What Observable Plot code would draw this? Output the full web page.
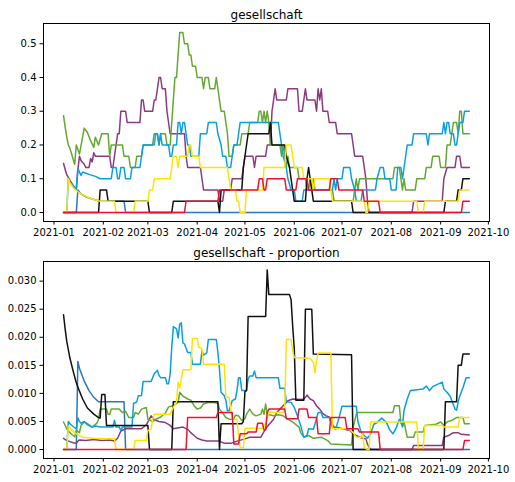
<!DOCTYPE html>
<html><head><meta charset="utf-8">
<script src="https://cdn.jsdelivr.net/npm/d3@7"></script>
<script src="https://cdn.jsdelivr.net/npm/@observablehq/plot@0.6"></script>
<style>
body{margin:0;background:#fff;}
#chart{width:515px;height:482px;}
#chart svg{display:block;}
</style></head><body><div id="chart"></div>
<script>
// day offsets are days since startDate
const startDate = "2021-01-01";
const monthTicks = ["2021-01-01","2021-02-01","2021-03-01","2021-04-01","2021-05-01","2021-06-01","2021-07-01","2021-08-01","2021-09-01","2021-10-01"];
const topTicks = [0, 0.1, 0.2, 0.3, 0.4, 0.5];
const bottomTicks = [0, 0.005, 0.01, 0.015, 0.02, 0.025, 0.03];
const titles = ["gesellschaft", "gesellschaft - proportion"];
const seriesNames = ["steel", "purple", "green", "light", "black", "yellow", "red"];
const seriesColors = ["#2a78b6", "#8c3a80", "#64a832", "#0aa0de", "#111111", "#ffe400", "#f01030"];

// ---- top panel: [day, value]
const topSteel = [[6,0],[14,0],[15,.0667],[17,.055],[20,.0467],[24,.04],[29,.0333],[44,.0333],[45,0],[261,0]];
const topPurple = [[6,.145],[7,.128],[8,.112],[10,.095],[12,.08],[14,.068],[15,.127],[16,.167],[17,.153],[19,.143],[20,.133],[22,.133],[23,.16],[24,.15],[25,.177],[26,.167],[35,.167],[36,.1333],[37,.1333],[38,.1667],[40,.2333],[41,.2333],[42,.3],[45,.3],[46,.2667],[54,.2667],[55,.3333],[56,.3333],[57,.3],[62,.3],[63,.3333],[64,.3333],[65,.3667],[66,.4],[67,.4],[68,.3667],[70,.3667],[71,.3],[72,.2667],[73,.2333],[82,.2333],[83,.1667],[84,.1333],[92,.1333],[93,.1],[94,.0667],[103,.0667],[104,.0333],[106,.0333],[107,.0667],[111,.0667],[112,.1],[118,.1],[119,.1333],[120,.1667],[125,.1667],[126,.1333],[127,.1667],[133,.1667],[134,.2],[136,.2],[137,.3],[138,.3333],[139,.3667],[140,.3333],[146,.3333],[147,.3667],[153,.3667],[154,.3],[156,.3],[157,.3333],[158,.3667],[159,.3333],[164,.3333],[165,.3],[166,.3667],[167,.3333],[168,.3667],[169,.3],[172,.3],[173,.2667],[177,.2667],[178,.2333],[187,.2333],[188,.2],[189,.1667],[194,.1667],[195,.1333],[196,.1],[197,.0333],[198,0],[225,0],[226,.0333],[244,.0333],[245,.1],[247,.1333],[252,.1333],[253,.1667],[255,.1667],[256,.1333],[261,.1333]];
const topGreen = [[6,.287],[7,.253],[8,.225],[9,.2],[10,.19],[11,.175],[12,.158],[13,.143],[14,.2],[16,.173],[19,.25],[21,.237],[23,.213],[25,.193],[26,.223],[28,.2],[30,.2333],[34,.2333],[35,.1667],[36,.2],[43,.2],[44,.1667],[47,.1667],[48,.1333],[51,.1333],[52,.1667],[55,.1667],[56,.2],[63,.2],[64,.2333],[65,.2333],[66,.2],[67,.2333],[70,.2333],[71,.2],[73,.2],[74,.2667],[75,.3333],[76,.4],[77,.4],[78,.4667],[79,.5333],[81,.5333],[82,.5],[84,.5],[85,.4667],[86,.4667],[87,.4333],[89,.4333],[90,.4],[93,.4],[94,.3667],[95,.4],[97,.4],[98,.3667],[101,.3667],[102,.4],[103,.3667],[104,.3333],[105,.3],[107,.3],[108,.2667],[109,.2333],[110,.1667],[112,.1667],[113,.2],[117,.2],[118,.2333],[122,.2333],[123,.2667],[128,.2667],[129,.3],[130,.3],[131,.2667],[132,.3],[133,.2667],[134,.3],[135,.2667],[136,.2],[142,.2],[143,.1667],[144,.2],[145,.1667],[146,.1333],[147,.1667],[148,.1333],[153,.1333],[154,.1],[158,.1],[159,.0667],[160,.0667],[161,.1],[162,.0667],[163,.1],[164,.0667],[175,.0667],[176,.0333],[188,.0333],[189,.0667],[190,.1],[191,.0667],[192,.1],[213,.1],[214,.1333],[217,.1333],[218,.1],[219,.0667],[220,.1],[221,.0667],[227,.0667],[228,.1],[233,.1],[234,.1333],[237,.1333],[238,.1667],[242,.1667],[243,.1333],[246,.1333],[247,.2],[249,.2],[250,.2333],[251,.2667],[253,.2667],[254,.2333],[255,.3],[256,.3],[257,.2333],[261,.2333]];
const topLight = [[6,0],[8,0],[9,.1],[10,.09],[12,.078],[14,.07],[15,.13],[17,.11],[18,.12],[22,.113],[26,.107],[29,.1],[36,.1],[37,.1333],[39,.1333],[40,.1],[41,.1],[42,.1333],[44,.1333],[45,.1],[48,.1],[49,.1333],[54,.1333],[55,.1667],[56,.2],[62,.2],[63,.2333],[65,.2333],[66,.2],[67,.2333],[68,.2],[72,.2],[73,.1667],[74,.1667],[75,.2],[77,.2],[78,.2667],[79,.2667],[80,.2333],[81,.2667],[82,.2667],[83,.2333],[84,.2],[85,.2],[86,.1667],[91,.1667],[92,.2333],[96,.2333],[97,.2667],[102,.2667],[103,.2333],[105,.2],[106,.1667],[108,.1667],[109,.1333],[111,.1333],[112,.1667],[113,.2],[115,.2],[116,.2333],[117,.2667],[141,.2667],[142,.2333],[143,.2],[144,.1667],[146,.1333],[147,.1],[149,.0667],[151,.0667],[152,.0333],[156,.0333],[157,.0667],[175,.0667],[176,.1],[177,.0667],[178,.1],[181,.1],[182,.1333],[186,.1333],[187,.1],[189,.0667],[190,.0333],[193,.0333],[194,.0667],[202,.0667],[203,.1],[205,.1333],[207,.1333],[208,.1],[211,.1],[212,.0667],[215,.0667],[216,.1333],[218,.1333],[219,.1],[220,.1333],[221,.1667],[222,.2],[225,.2],[226,.2333],[234,.2333],[235,.2],[236,.2333],[244,.2333],[245,.2667],[246,.2333],[247,.2667],[248,.2667],[249,.2333],[251,.2333],[252,.2],[253,.2],[254,.2333],[255,.2667],[257,.2667],[258,.3],[261,.3]];
const topBlack = [[6,0],[28,0],[29,.0667],[33,.0667],[34,.0333],[59,.0333],[60,0],[74,0],[75,.0333],[103,.0333],[104,0],[105,.0667],[118,.0667],[119,.1333],[120,.1667],[121,.2],[122,.2333],[135,.2333],[136,.2667],[137,.2],[145,.2],[146,.1667],[148,.1333],[149,.1],[150,.0667],[151,.0333],[158,.0333],[159,.1],[160,.1333],[161,.1],[162,.0667],[163,.0333],[187,.0333],[188,0],[245,0],[246,.0333],[253,.0333],[254,.0667],[256,.0667],[257,.1],[261,.1]];
const topYellow = [[6,0],[8,0],[9,.1],[10,.088],[12,.074],[14,.065],[17,.055],[20,.048],[24,.04],[28,.0345],[29,.0333],[38,.0333],[39,0],[50,0],[51,.0333],[59,.0333],[60,.0667],[62,.0667],[63,.1],[73,.1],[74,.1333],[75,.1667],[77,.1667],[78,.1333],[79,.1667],[84,.1667],[85,.2],[86,.2],[87,.1667],[91,.1667],[92,.1333],[109,.1333],[110,.1],[111,.0667],[114,.0667],[115,.0333],[116,.0333],[117,0],[120,0],[121,.0667],[131,.0667],[132,.1333],[145,.1333],[146,.2],[149,.2],[150,.1667],[151,.1333],[156,.1333],[157,.1],[162,.1],[163,.0667],[164,.1],[173,.1],[174,.0667],[175,.0333],[195,.0333],[196,0],[197,0],[198,.0333],[228,.0333],[229,0],[232,0],[233,.0333],[254,.0333],[255,.0667],[261,.0667]];
const topRed = [[6,0],[82,0],[83,.0333],[103,.0333],[104,.0667],[128,.0667],[129,.1],[131,.1],[132,.0667],[133,.0667],[134,.1],[145,.1],[146,.0667],[152,.0667],[153,.1],[159,.1],[160,.0667],[173,.0667],[174,.1],[178,.1],[179,.0667],[194,.0667],[195,.0333],[204,.0333],[205,0],[256,0],[257,.0333],[261,.0333]];

// ---- bottom panel (proportion): [day, value]
const botSteel = [[6,0],[14,0],[15,.0157],[16,.0145],[17,.0137],[19,.0122],[22,.0105],[25,.0093],[28,.0085],[44,.0085],[45,0],[261,0]];
const botPurple = [[6,.002],[8,.0016],[10,.0014],[12,.0012],[14,.0011],[15,.0015],[16,.0017],[20,.0016],[25,.0018],[30,.0016],[35,.0017],[38,.0015],[40,.002],[42,.0033],[45,.0037],[55,.0037],[58,.0044],[61,.006],[63,.0053],[66,.005],[70,.0048],[73,.0043],[75,.0037],[81,.004],[84,.0036],[86,.003],[88,.0025],[90,.002],[93,.0017],[96,.0015],[104,.0015],[107,.0011],[111,.0011],[115,.0015],[120,.0019],[123,.0022],[130,.0022],[133,.0037],[135,.0044],[138,.0054],[140,.0066],[142,.0072],[144,.0078],[147,.0087],[150,.009],[156,.0089],[158,.0093],[159,.0097],[161,.009],[163,.0087],[165,.0078],[167,.0072],[169,.0064],[171,.006],[173,.0058],[174,.0049],[176,.004],[180,.0038],[186,.0034],[188,.0028],[190,.0025],[193,.0021],[196,.0019],[197,.001],[198,.0004],[199,0],[225,0],[226,.0007],[244,.0007],[245,.0022],[248,.0025],[251,.003],[254,.003],[256,.0027],[261,.0026]];
const botGreen = [[6,.0049],[8,.0037],[10,.003],[12,.0025],[13,.0023],[14,.0034],[16,.003],[17,.0043],[19,.0049],[21,.0046],[24,.004],[27,.0047],[28,.0054],[29,.0072],[33,.0072],[34,.0063],[35,.0063],[36,.0072],[41,.0072],[43,.0066],[45,.0068],[47,.0057],[50,.0057],[51,.0066],[53,.0063],[55,.0072],[58,.0075],[59,.0054],[62,.005],[64,.0054],[67,.0058],[70,.0065],[72,.0076],[75,.0078],[76,.008],[78,.0084],[79,.0102],[81,.0095],[84,.009],[86,.0088],[88,.0078],[90,.0072],[92,.0074],[94,.0081],[97,.0084],[100,.0084],[103,.0082],[104,.0072],[106,.0065],[108,.0057],[110,.0054],[113,.0054],[114,.0061],[116,.006],[118,.0052],[120,.0055],[121,.0063],[123,.0072],[125,.0063],[127,.006],[130,.0063],[131,.0072],[132,.0063],[133,.0081],[134,.0063],[138,.006],[141,.0062],[144,.006],[147,.0054],[150,.0049],[154,.004],[155,.003],[157,.0022],[160,.0025],[163,.002],[168,.0022],[172,.0016],[174,.001],[187,.0008],[188,.004],[190,.0063],[191,.0066],[213,.0066],[214,.0078],[217,.0078],[218,.0049],[219,.004],[220,.0049],[222,.0022],[226,.0022],[227,.0031],[232,.0031],[233,.0043],[240,.0045],[243,.0049],[245,.0043],[247,.0049],[250,.0052],[253,.0057],[257,.0057],[258,.0046],[261,.0046]];
const botLight = [[6,0],[8,0],[9,.005],[10,.0046],[12,.0041],[14,.0037],[15,.0056],[16,.005],[17,.0047],[19,.005],[21,.0044],[24,.004],[26,.0042],[29,.004],[37,.004],[38,.0052],[39,.004],[41,.004],[42,.0034],[43,.004],[49,.004],[50,.0082],[52,.0085],[53,.0096],[55,.0096],[56,.0121],[61,.0121],[63,.0135],[65,.0141],[66,.0132],[67,.0128],[70,.0128],[71,.0117],[72,.0117],[73,.0135],[74,.0182],[75,.0219],[77,.0215],[78,.0199],[79,.0223],[80,.0226],[81,.019],[82,.0188],[84,.0173],[86,.0173],[87,.0152],[92,.0152],[93,.0176],[94,.0168],[96,.0172],[97,.0196],[102,.0196],[103,.0173],[104,.0143],[105,.0102],[107,.0096],[108,.0088],[109,.0069],[110,.0069],[112,.0087],[114,.009],[115,.0105],[116,.0128],[117,.0128],[118,.0105],[121,.0105],[122,.0126],[123,.0131],[125,.0131],[126,.014],[127,.0128],[141,.0128],[142,.0109],[145,.0109],[146,.0085],[149,.0084],[151,.0075],[153,.006],[155,.0043],[157,.0022],[159,.0025],[160,.0037],[163,.0036],[165,.0055],[166,.0066],[168,.0066],[169,.0057],[173,.0057],[175,.004],[177,.0036],[179,.0055],[181,.0077],[190,.0077],[191,.005],[193,.0031],[195,.0025],[197,.002],[199,.0028],[201,.0045],[203,.0048],[206,.0056],[209,.0048],[211,.0035],[213,.0028],[215,.0038],[217,.0054],[219,.0042],[220,.007],[222,.009],[224,.0105],[232,.0108],[234,.0113],[236,.0105],[238,.0112],[244,.012],[245,.0108],[247,.0102],[249,.0095],[252,.0072],[253,.007],[254,.0085],[255,.0095],[257,.011],[259,.0128],[261,.0128]];
const botBlack = [[6,.024],[7,.0215],[8,.0193],[10,.0163],[12,.014],[14,.0119],[16,.0104],[18,.009],[21,.0074],[25,.0063],[28,.0057],[29,.0056],[30,.0098],[32,.0098],[33,.0043],[59,.0043],[60,0],[74,0],[75,.0085],[103,.0085],[104,0],[105,.0046],[118,.0046],[119,.005],[120,.0103],[121,.0105],[122,.0237],[133,.0237],[134,.032],[135,.0276],[148,.0276],[149,.0267],[150,.022],[151,.018],[152,.0088],[157,.0088],[158,.025],[162,.025],[163,.017],[187,.0169],[188,0],[245,0],[246,.0085],[253,.0085],[254,.015],[256,.015],[257,.017],[261,.017]];
const botYellow = [[6,0],[8,0],[9,.0042],[11,.0035],[13,.003],[15,.0026],[18,.0022],[25,.002],[31,.0019],[38,.0019],[39,0],[50,0],[51,.0016],[58,.0016],[59,.0034],[61,.0036],[62,.0054],[63,.0063],[73,.0063],[75,.0075],[77,.0085],[78,.012],[79,.011],[80,.0125],[81,.0142],[86,.0142],[87,.0198],[90,.0198],[91,.0182],[93,.018],[94,.0152],[107,.0152],[108,.0093],[110,.0093],[111,.0075],[112,.0054],[115,.0054],[116,.0025],[117,.0003],[119,.0003],[120,.0038],[131,.0038],[133,.0046],[135,.0066],[144,.0066],[145,.0072],[146,.0196],[149,.0196],[150,.0175],[151,.0164],[161,.0162],[163,.0155],[164,.0137],[165,.0158],[166,.0172],[174,.0172],[175,.0037],[185,.0037],[188,.003],[190,.0022],[193,.0022],[194,.0028],[195,.0004],[197,0],[198,0],[199,.0049],[228,.0049],[229,0],[232,0],[233,.0043],[244,.0043],[245,.004],[254,.004],[255,.0057],[261,.0057]];
const botRed = [[6,0],[83,0],[84,.0057],[102,.0057],[103,.0066],[112,.0066],[113,.001],[116,.001],[117,.0028],[121,.0028],[122,.0031],[127,.0031],[128,.0047],[131,.0047],[132,.0035],[133,.0035],[134,.0066],[135,.0072],[145,.0072],[146,.0055],[153,.0055],[154,.0072],[159,.0072],[160,.0057],[165,.0057],[166,.0028],[173,.0028],[174,.0057],[183,.0057],[184,.0037],[191,.0037],[192,.0031],[204,.0031],[205,0],[257,0],[258,.0016],[261,.0016]];

const topSeries = [topSteel, topPurple, topGreen, topLight, topBlack, topYellow, topRed];
const botSeries = [botSteel, botPurple, botGreen, botLight, botBlack, botYellow, botRed];

const t0 = Date.parse(startDate + "T00:00:00Z");
const toDate = d => new Date(t0 + d * 864e5);
const tickDates = monthTicks.map(s => new Date(s + "T00:00:00Z"));
const xDomain = [toDate(-6.6), toDate(273.7)];

function panel(series, title, yDomain, yTicks, yFmt, mt, mb) {
  const marks = [];
  series.forEach((pts, i) => {
    const rows = pts.map(([d, v]) => ({date: toDate(d), value: v}));
    marks.push(Plot.line(rows, {x: "date", y: "value", stroke: seriesColors[i], strokeWidth: 1.5, strokeLinejoin: "round"}));
  });
  marks.push(Plot.frame({stroke: "#000", strokeWidth: 1}));
  marks.push(Plot.text([title], {frameAnchor: "top", dy: -13, fontSize: 12, fill: "#000"}));
  return Plot.plot({
    width: 515, height: 241,
    marginTop: mt, marginBottom: mb, marginLeft: 43, marginRight: 26,
    style: {fontFamily: "DejaVu Sans, sans-serif", fontSize: "10px", color: "#000", background: "#fff"},
    x: {type: "utc", domain: xDomain, ticks: tickDates, tickFormat: d3.utcFormat("%Y-%m"), label: null, tickSize: 3.5, tickPadding: 3.5},
    y: {domain: yDomain, ticks: yTicks, tickFormat: d3.format(yFmt), label: null, tickSize: 3.5, tickPadding: 3.5},
    marks
  });
}

const chart = document.getElementById("chart");
chart.append(panel(topSeries, titles[0], [-0.0267, 0.56], topTicks, ".1f", 23, 20));
chart.append(panel(botSeries, titles[1], [-0.0016, 0.0335], bottomTicks, ".3f", 20, 24));
</script></body></html>
